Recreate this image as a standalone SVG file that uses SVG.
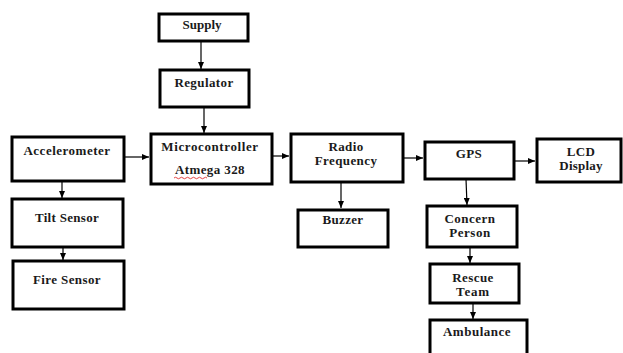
<svg xmlns="http://www.w3.org/2000/svg" width="623" height="353" viewBox="0 0 623 353">
<defs>
<marker id="ah" viewBox="0 0 7 6" refX="7" refY="3" markerWidth="7" markerHeight="6" markerUnits="userSpaceOnUse" orient="auto">
<path d="M0,0 L7,3 L0,6 z" fill="#000"/>
</marker>
<style>
.box{fill:#fff;stroke:#000;stroke-width:3}
.t{font-family:"Liberation Serif","Times New Roman",serif;font-weight:bold;font-size:13px;fill:#1a1a1a;text-anchor:middle}
.c{stroke:#000;stroke-width:1.2;fill:none;marker-end:url(#ah)}
</style>
</defs>
<rect width="623" height="353" fill="#fff"/>
<g id="connectors">
<line class="c" x1="201" y1="41" x2="201" y2="69"/>
<line class="c" x1="204" y1="107" x2="204" y2="133"/>
<line class="c" x1="124" y1="157" x2="149" y2="157"/>
<line class="c" x1="273" y1="156" x2="289" y2="156"/>
<line class="c" x1="403" y1="158" x2="423" y2="158"/>
<line class="c" x1="514" y1="161" x2="535" y2="161"/>
<line class="c" x1="341" y1="182" x2="341" y2="208"/>
<line class="c" x1="466" y1="179" x2="467" y2="205"/>
<line class="c" x1="470" y1="247" x2="470" y2="263"/>
<line class="c" x1="473" y1="303" x2="473" y2="319"/>
<line class="c" x1="62" y1="181" x2="62" y2="198"/>
<line class="c" x1="63" y1="247" x2="63" y2="260"/>
</g>
<g id="supply"><rect class="box" x="159" y="14" width="89" height="27"/><text class="t" x="202" y="29">Supply</text></g>
<g id="regulator"><rect class="box" x="160" y="70" width="89" height="37"/><text class="t" x="204" y="87" letter-spacing="0.4">Regulator</text></g>
<g id="microcontroller"><rect class="box" x="151" y="134" width="121" height="50"/><text class="t" x="210" y="151" letter-spacing="0.6">Microcontroller</text><text class="t" x="210" y="174" letter-spacing="0.4">Atmega 328</text><path d="M174,178 q1.5,-1.5 3,0 t3,0 t3,0 t3,0 t3,0 t3,0 t3,0 t3,0 t3,0 t3,0 t3,0" fill="none" stroke="#e03030" stroke-width="0.9"/></g>
<g id="accelerometer"><rect class="box" x="12" y="137" width="112" height="44"/><text class="t" x="67" y="155" letter-spacing="0.5">Accelerometer</text></g>
<g id="tilt-sensor"><rect class="box" x="12" y="199" width="111" height="48"/><text class="t" x="67" y="222" letter-spacing="0.3">Tilt Sensor</text></g>
<g id="fire-sensor"><rect class="box" x="13" y="261" width="111" height="48"/><text class="t" x="67" y="284" letter-spacing="0.4">Fire Sensor</text></g>
<g id="radio-frequency"><rect class="box" x="291" y="134" width="112" height="48"/><text class="t" x="346" y="151" letter-spacing="0.4">Radio</text><text class="t" x="346" y="165" letter-spacing="0.4">Frequency</text></g>
<g id="gps"><rect class="box" x="425" y="142" width="89" height="37"/><text class="t" x="469" y="158" letter-spacing="0.4">GPS</text></g>
<g id="lcd-display"><rect class="box" x="537" y="139" width="84" height="43"/><text class="t" x="581" y="156" letter-spacing="0.4">LCD</text><text class="t" x="581" y="170" letter-spacing="0.2">Display</text></g>
<g id="buzzer"><rect class="box" x="298" y="210" width="90" height="37"/><text class="t" x="343" y="224" letter-spacing="0.3">Buzzer</text></g>
<g id="concern-person"><rect class="box" x="427" y="206" width="90" height="41"/><text class="t" x="470" y="223" letter-spacing="0.5">Concern</text><text class="t" x="470" y="237" letter-spacing="0.5">Person</text></g>
<g id="rescue-team"><rect class="box" x="430" y="264" width="89" height="39"/><text class="t" x="473" y="282" letter-spacing="0.4">Rescue</text><text class="t" x="473" y="296" letter-spacing="0.8">Team</text></g>
<g id="ambulance"><rect class="box" x="430" y="320" width="97" height="40"/><text class="t" x="477" y="336" letter-spacing="0.5">Ambulance</text></g>
</svg>
